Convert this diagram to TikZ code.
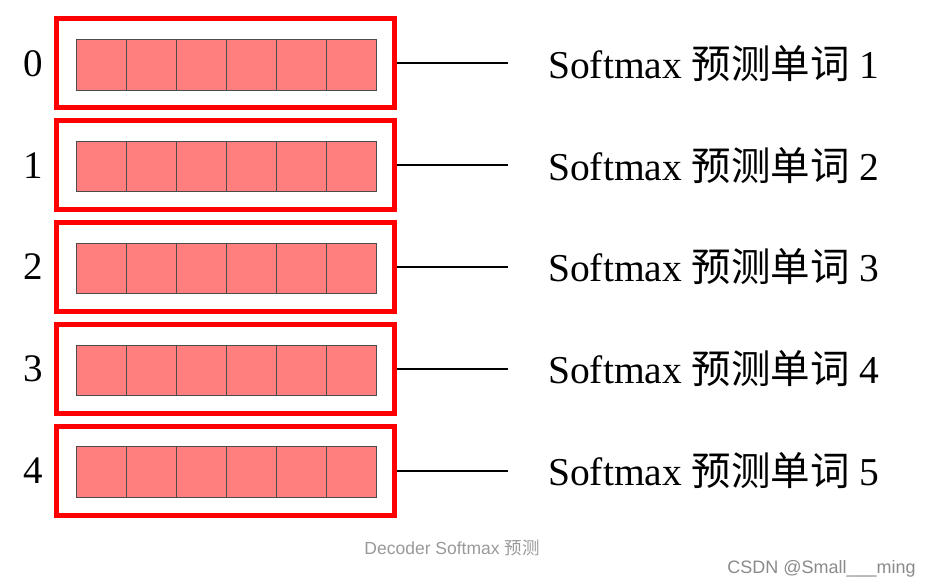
\documentclass[tikz,border=0pt]{standalone}
\usepackage{fontspec}
\setmainfont{Liberation Serif}
\newfontfamily\cjkfont{Noto Sans CJK SC}
\newfontfamily\capfont{Liberation Sans}
\definecolor{cellred}{HTML}{FF7F7F}
\definecolor{boxred}{HTML}{FF0000}
\definecolor{capgray}{HTML}{999999}
\definecolor{markgray}{HTML}{8A8A8A}
\tikzset{
  framebox/.style={draw=boxred, line width=5pt, minimum width=338pt, minimum height=88.5pt, inner sep=0pt},
  cellbox/.style={draw=black!70, fill=cellred, line width=0.9pt, minimum width=49.9pt, minimum height=50.7pt, inner sep=0pt},
  idxlabel/.style={font=\fontsize{39}{39}\selectfont, inner sep=0pt},
  outlabel/.style={font=\fontsize{39.5}{39.5}\selectfont, anchor=west, inner sep=0pt},
  connector/.style={draw=black, line width=2pt}
}
\begin{document}
\begin{tikzpicture}[x=1pt,y=-1pt]
\useasboundingbox (0,0) rectangle (933,588);
\foreach \r in {0,...,4}{
  \pgfmathsetmacro{\yc}{63.25+101.9*\r}
  \pgfmathsetmacro{\yy}{64.65+101.9*\r}
  \pgfmathtruncatemacro{\n}{\r+1}
  \node[framebox] (box\r) at (225,\yc) {};
  \foreach \i in {0,...,5}{
    \node[cellbox] (cell\r-\i) at ({101.65+49.9*\i},\yy) {};
  }
  \node[idxlabel] (lab\r) at (33,\yc) {\r};
  \coordinate (end\r) at (508,\yc);
  \node[outlabel] (txt\r) at (548,\yc) {Softmax {\cjkfont 预测单词} \n};
  \draw[connector] (box\r.east) -- (end\r);
}
\node[font=\capfont\fontsize{17.5}{17.5}\selectfont, text=capgray] (caption) at (452,548) {Decoder Softmax {\cjkfont 预测}};
\node[font=\capfont\fontsize{18}{18}\selectfont, text=markgray] (mark) at (821.5,569) {CSDN @Small\_\_\_ming};
\end{tikzpicture}
\end{document}
